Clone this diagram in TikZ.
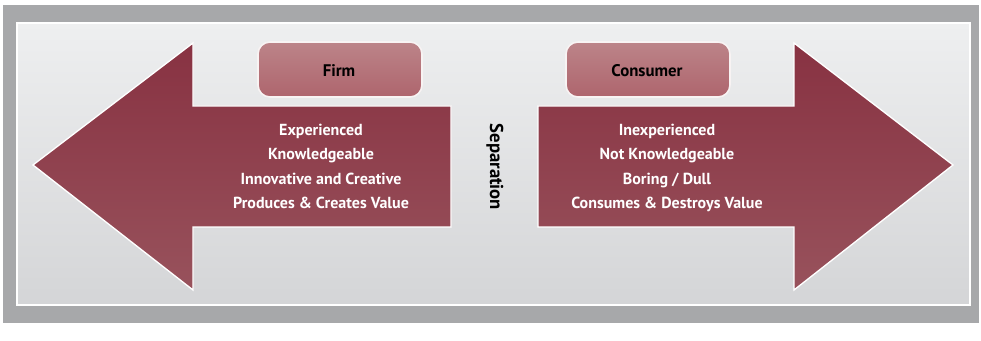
\documentclass[tikz,border=0pt]{standalone}
\usepackage{fontspec}
\setmainfont{PT Sans}
\definecolor{framegray}{RGB}{167,168,170}
\definecolor{paneltop}{RGB}{238,239,240}
\definecolor{panelbot}{RGB}{212,213,215}
\definecolor{arrowtop}{RGB}{136,50,66}
\definecolor{arrowbot}{RGB}{152,82,92}
\definecolor{boxtop}{RGB}{188,132,137}
\definecolor{boxbot}{RGB}{174,101,109}
\tikzset{every picture/.style={line width=0.75pt}}
\tikzset{
  bigarrow/.style={draw=white, line width=1pt, top color=arrowtop, bottom color=arrowbot},
  rolebox/.style={draw=white!90!boxtop, line width=1.2pt, top color=boxtop, bottom color=boxbot, rounded corners=9pt},
  rolelabel/.style={inner sep=0.75pt, font=\fontsize{12.6}{14}\selectfont\bfseries, text=black},
  traitlist/.style={inner sep=0pt, anchor=north, align=center, text=white, font=\fontsize{12}{18.3}\selectfont\bfseries}
}
\begin{document}
\begin{tikzpicture}[x=0.75pt,y=0.75pt,yscale=-1,xscale=1]
		\useasboundingbox (0,0) rectangle (981,341);
		
		%Shape: Rectangle [id:frame] 
		\fill [framegray] (3,5) rectangle (979,323) ;
		%Shape: Rectangle [id:panel] 
		\draw [draw=white, line width=1pt, top color=paneltop, bottom color=panelbot] (17,23) rectangle (970,305) ;
		
		%Shape: Left Arrow [id:firmarrow] 
		\draw [bigarrow] (451,106) -- (193,106) -- (193,43) -- (33,165) -- (193,290) -- (193,227) -- (451,227) -- cycle ;
		%Shape: Right Arrow [id:consumerarrow] 
		\draw [bigarrow] (538,106) -- (794,106) -- (794,43) -- (953,165) -- (794,290) -- (794,227) -- (538,227) -- cycle ;
		
		%Shape: Rounded Rectangle [id:firmbox] 
		\draw [rolebox] (258,42) rectangle (422,97) ;
		%Shape: Rounded Rectangle [id:consumerbox] 
		\draw [rolebox] (566,42) rectangle (730,97) ;
		
		\node (firm) at (339,71) [rolelabel] {Firm};
		\node (consumer) at (647,71) [rolelabel] {Consumer};
		\node (firmtraits) at (321,123.5) [traitlist] {Experienced\\Knowledgeable\\Innovative and Creative\\Produces \& Creates Value};
		\node (consumertraits) at (667,123.5) [traitlist] {Inexperienced\\Not Knowledgeable\\Boring / Dull\\Consumes \& Destroys Value};
		\node (separation) at (495,167) [rolelabel, rotate=-90, font=\fontsize{14}{16}\selectfont\bfseries] {Separation};
		
	\end{tikzpicture}
\end{document}
